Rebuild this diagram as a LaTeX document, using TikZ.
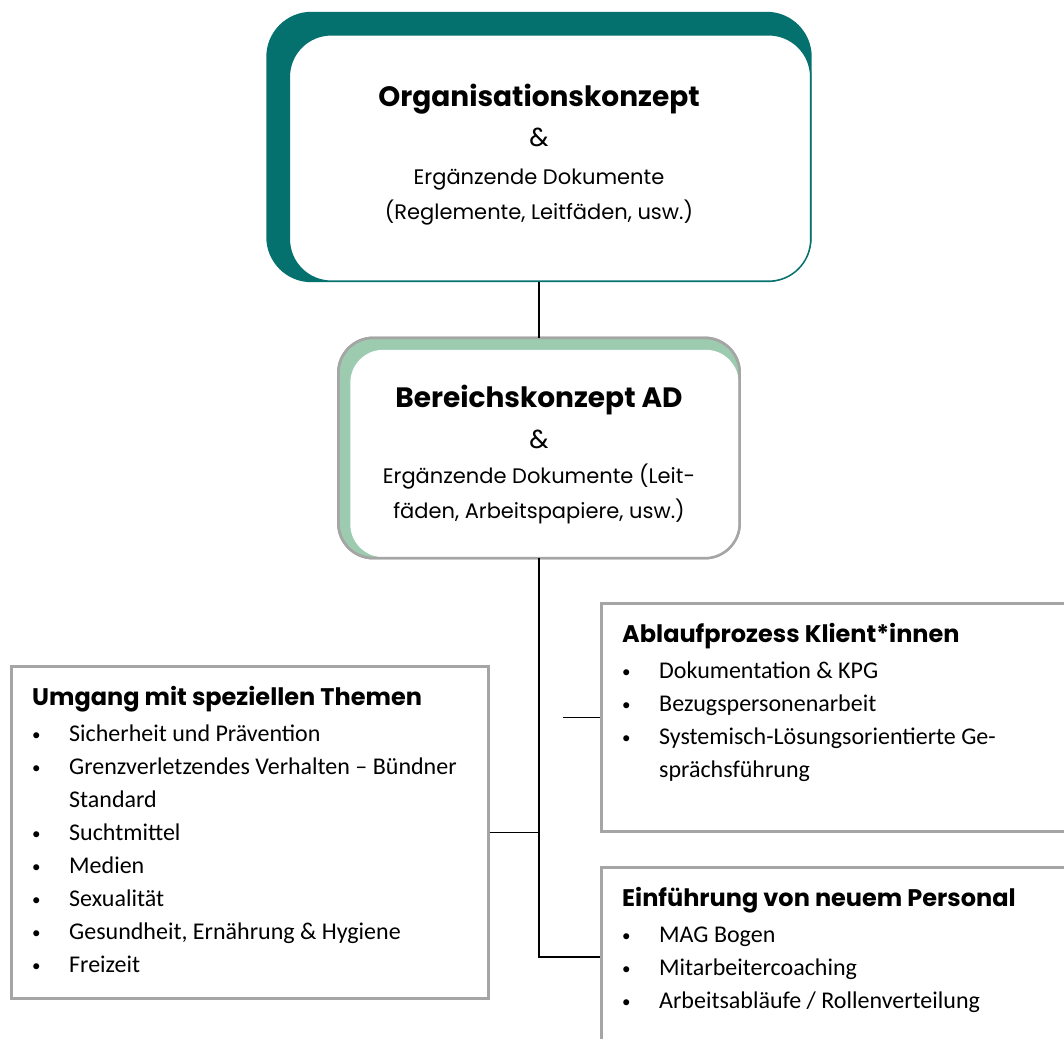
\documentclass[tikz,border=0pt]{standalone}
\usepackage{fontspec}
\setmainfont{Poppins}
\newfontfamily\listfont{Carlito}
\usetikzlibrary{backgrounds}
\definecolor{orgteal}{HTML}{04716E}
\definecolor{adsage}{HTML}{9CCBB0}
\definecolor{boxgray}{HTML}{A5A5A5}
\newcommand{\kopf}[1]{{\normalfont\bfseries\fontsize{24}{33}\selectfont #1}}
\newcommand{\pkt}[1]{\makebox[37pt][l]{\fontsize{17}{33}\selectfont\raisebox{1pt}{\textbullet}}#1}
\begin{document}
\begin{tikzpicture}[x=1pt, y=-1pt]
        \tikzset{konzept/.style={align=center, inner sep=0pt, font=\fontsize{21}{35}\selectfont},
                 listbox/.style={draw=boxgray, line width=2.5pt, anchor=north west, inner sep=0pt},
                 listtext/.style={anchor=north west, align=left, inner sep=0pt,
                                  font=\listfont\fontsize{24}{33}\selectfont},
                 link/.style={line width=1.4pt}}
        \useasboundingbox (0,0) rectangle (1064,1038);

        \node[konzept, minimum width=545, minimum height=270] (org) at (539,147)
             {\vphantom{Ag}\\[-11pt]
              {\bfseries\fontsize{28}{35}\selectfont Organisationskonzept}\\[5pt]
              {\fontsize{26}{35}\selectfont\&}\\[3pt]
              Ergänzende Dokumente\\
              (Reglemente, Leitfäden, usw.)};

        \node[konzept, minimum width=401, minimum height=220] (bereich) at (539,448)
             {\vphantom{Ag}\\[-15pt]
              {\bfseries\fontsize{28}{35}\selectfont Bereichskonzept AD}\\[6pt]
              {\fontsize{26}{35}\selectfont\&}\\[0pt]
              Ergänzende Dokumente (Leit-\\
              fäden, Arbeitspapiere, usw.)};

        \node[listbox, minimum width=477, minimum height=332] (themen) at (10,665) {};
        \node[listtext] (thementxt) at ([shift={(22,21)}]themen.north west)
             {\kopf{Umgang mit speziellen Themen}\\[3pt]
              \pkt{Sicherheit und Prävention}\\
              \pkt{Grenzverletzendes Verhalten – Bündner}\\
              \hspace*{37pt}Standard\\
              \pkt{Suchtmittel}\\
              \pkt{Medien}\\
              \pkt{Sexualität}\\
              \pkt{Gesundheit, Ernährung \& Hygiene}\\
              \pkt{Freizeit}};

        \node[listbox, minimum width=480, minimum height=228] (ablauf) at (600,602) {};
        \node[listtext] (ablauftxt) at ([shift={(22,21)}]ablauf.north west)
             {\kopf{Ablaufprozess Klient*innen}\\[3pt]
              \pkt{Dokumentation \& KPG}\\
              \pkt{Bezugspersonenarbeit}\\
              \pkt{Systemisch-Lösungsorientierte Ge-}\\
              \hspace*{37pt}sprächsführung};

        \node[listbox, minimum width=480, minimum height=180] (personal) at (600,866) {};
        \node[listtext] (personaltxt) at ([shift={(22,21)}]personal.north west)
             {\kopf{Einführung von neuem Personal}\\[3pt]
              \pkt{MAG Bogen}\\
              \pkt{Mitarbeitercoaching}\\
              \pkt{Arbeitsabläufe / Rollenverteilung}};

        \begin{scope}[on background layer]
          \fill[orgteal, rounded corners=45] (org.north west) rectangle (org.south east);
          \filldraw[fill=white, draw=orgteal, line width=1.5, rounded corners=42]
                   ([shift={(23,23)}]org.north west) rectangle ([shift={(-1,-1)}]org.south east);
          \filldraw[fill=adsage, draw=boxgray, line width=2.5, rounded corners=35]
                   (bereich.north west) rectangle (bereich.south east);
          \fill[white, rounded corners=33]
                   ([shift={(12,12)}]bereich.north west) rectangle ([shift={(-1,-1)}]bereich.south east);
          \draw[boxgray, line width=2.5, rounded corners=35]
                   (bereich.north west) rectangle (bereich.south east);
        \end{scope}

        \draw[link] (org.south) -- (bereich.north);
        \draw[link, line width=2pt] (bereich.south) |- (personal.west);
        \draw[link] (themen.east) -- (themen.east -| bereich.south);
        \coordinate (stub) at ([xshift=-37]ablauf.west);
        \draw[link] (stub) -- (ablauf.west);
\end{tikzpicture}
\end{document}
